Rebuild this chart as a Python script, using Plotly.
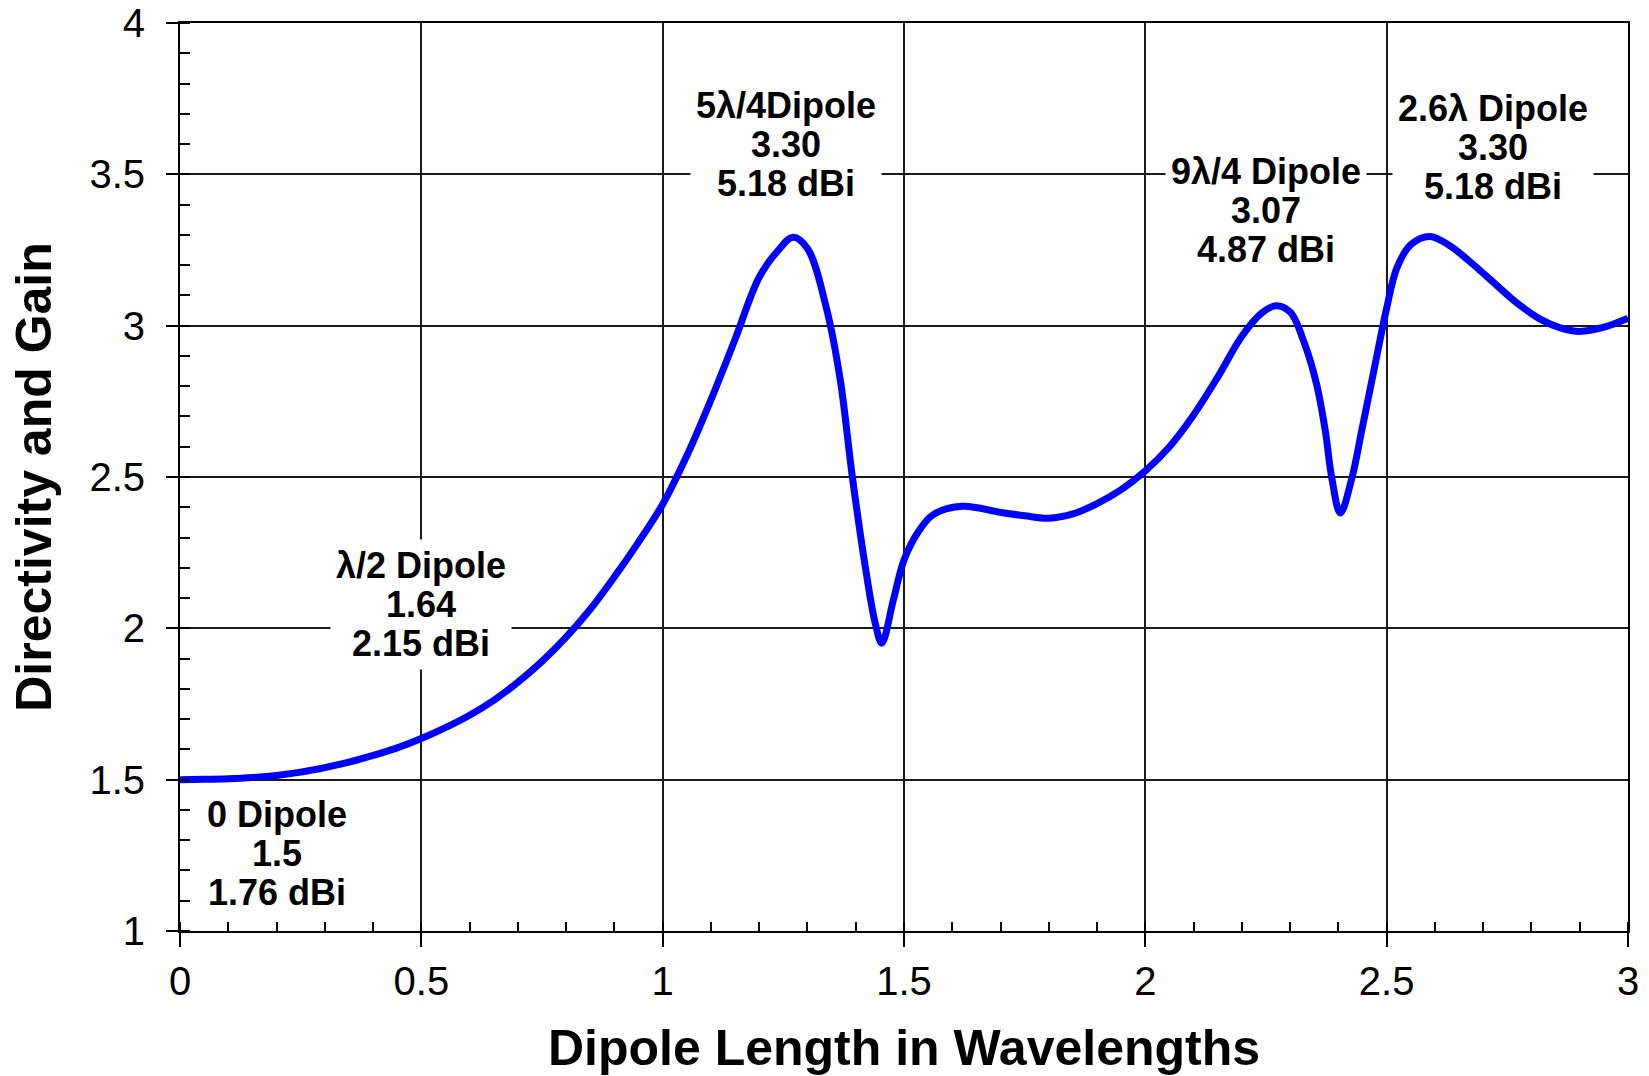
import plotly.graph_objects as go

# Dipole length (wavelengths) and directivity
length_wl = [0.00, 0.05, 0.10, 0.15, 0.20, 0.25, 0.30, 0.35, 0.40, 0.45,
             0.50, 0.55, 0.60, 0.65, 0.70, 0.75, 0.80, 0.85, 0.90, 0.95,
             1.00, 1.05, 1.10, 1.15, 1.20, 1.24, 1.27, 1.30, 1.34, 1.368,
             1.393, 1.423, 1.44, 1.454, 1.478, 1.50, 1.53, 1.56, 1.62, 1.70,
             1.75, 1.80, 1.85, 1.90, 1.95, 2.00, 2.05, 2.10, 2.15, 2.20,
             2.24, 2.27, 2.30, 2.33, 2.355, 2.373, 2.386, 2.404, 2.428, 2.448,
             2.469, 2.487, 2.50, 2.521, 2.55, 2.59, 2.63, 2.67, 2.72, 2.77,
             2.82, 2.86, 2.90, 2.95, 3.00]
directivity = [1.500, 1.501, 1.503, 1.507, 1.514, 1.525, 1.540, 1.558, 1.580, 1.605,
               1.636, 1.672, 1.713, 1.762, 1.822, 1.891, 1.971, 2.063, 2.170, 2.285,
               2.410, 2.570, 2.755, 2.955, 3.160, 3.250, 3.292, 3.255, 3.053, 2.820,
               2.500, 2.171, 2.020, 1.951, 2.094, 2.226, 2.320, 2.375, 2.403, 2.383,
               2.372, 2.364, 2.378, 2.412, 2.458, 2.520, 2.600, 2.705, 2.830, 2.965,
               3.040, 3.066, 3.045, 2.940, 2.805, 2.651, 2.500, 2.381, 2.497, 2.651,
               2.816, 2.959, 3.058, 3.190, 3.268, 3.295, 3.265, 3.215, 3.145, 3.075,
               3.020, 2.993, 2.981, 2.995, 3.025]

# Label blocks: anchor (x, y of middle line) and text lines
label_x = [0.20, 0.50, 1.255, 2.25, 2.72]
label_y = [1.255, 2.08, 3.60, 3.38, 3.59]
label_lines = [
    ["0 Dipole", "1.5", "1.76 dBi"],
    ["λ/2 Dipole", "1.64", "2.15 dBi"],
    ["5λ/4Dipole", "3.30", "5.18 dBi"],
    ["9λ/4 Dipole", "3.07", "4.87 dBi"],
    ["2.6λ Dipole", "3.30", "5.18 dBi"],
]

x_ticks = [0, 0.5, 1, 1.5, 2, 2.5, 3]
x_tick_text = ["0", "0.5", "1", "1.5", "2", "2.5", "3"]
y_ticks = [1, 1.5, 2, 2.5, 3, 3.5, 4]
y_tick_text = ["1", "1.5", "2", "2.5", "3", "3.5", "4"]

FONT = "Liberation Sans, Arial, sans-serif"

fig = go.Figure()
fig.add_trace(go.Scatter(
    x=length_wl, y=directivity, mode="lines",
    line=dict(color="#0000FF", width=7, shape="spline", smoothing=1.0),
    showlegend=False, hoverinfo="skip",
))

for lx, ly, lines in zip(label_x, label_y, label_lines):
    txt = "<br>".join(f'<span style="font-size:36px">{s}</span>' for s in lines)
    fig.add_annotation(
        x=lx, y=ly, xref="x", yref="y", text=txt, showarrow=False,
        font=dict(family=FONT, size=30, color="black", weight="bold"),
        bgcolor="white", borderpad=5, align="center",
        xanchor="center", yanchor="middle",
    )

axis_common = dict(
    showgrid=True, gridcolor="#1a1a1a", gridwidth=1.6,
    showline=True, linecolor="black", linewidth=2, mirror=True,
    ticks="outside", tickcolor="black", tickwidth=2,
    zeroline=False, ticklabeloverflow="allow",
    tickfont=dict(family=FONT, size=40, color="black"),
)

fig.update_xaxes(
    **axis_common, range=[0, 3], tickvals=x_ticks, ticktext=x_tick_text,
    ticklen=14, ticklabelstandoff=0,
    minor=dict(dtick=0.1, ticks="inside", ticklen=9, tickcolor="black", tickwidth=2, showgrid=False),
    title=dict(text="<b>Dipole Length in Wavelengths</b>", standoff=39,
               font=dict(family=FONT, size=50, color="black")),
)
fig.update_yaxes(
    **axis_common, range=[1, 4], tickvals=y_ticks, ticktext=y_tick_text,
    ticklen=12, ticklabelstandoff=13,
    minor=dict(dtick=0.1, ticks="inside", ticklen=10, tickcolor="black", tickwidth=2, showgrid=False),
    title=dict(text="<b>Directivity and Gain</b>", standoff=22,
               font=dict(family=FONT, size=50, color="black")),
)

fig.update_layout(
    width=1649, height=1076,
    margin=dict(l=180, r=21, t=23, b=145, autoexpand=False),
    paper_bgcolor="white", plot_bgcolor="white",
    font=dict(family=FONT, color="black"),
)

# remove the default 8px page margin so the figure fills the window exactly; no modebar
fig.write_html("out.html", config={"displayModeBar": False},
               post_script="document.body.style.margin='0px';")
